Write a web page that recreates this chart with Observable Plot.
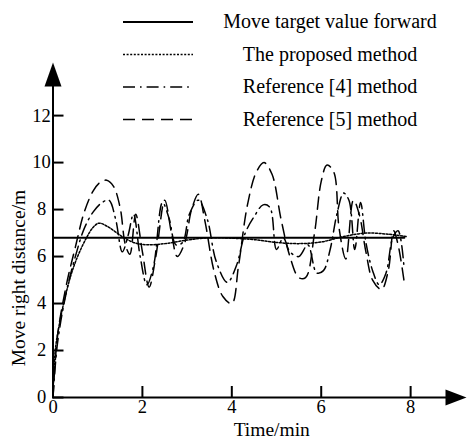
<!DOCTYPE html>
<html><head><meta charset="utf-8">
<script src="https://cdn.jsdelivr.net/npm/d3@7"></script>
<script src="https://cdn.jsdelivr.net/npm/@observablehq/plot@0.6"></script>
<style>
body{margin:0;background:#fff;}
#wrap{position:relative;width:468px;height:442px;font-family:"Liberation Serif","Times New Roman",serif;}
#legend{position:absolute;left:0;top:0;pointer-events:none;}
</style></head><body>
<div id="wrap"></div>
<script>
// ---- data ----
const xTicks = [0, 2, 4, 6, 8];
const yTicks = [0, 2, 4, 6, 8, 10, 12];
const seriesNames = ["Move target value forward", "The proposed method", "Reference [4] method", "Reference [5] method"];

const tTarget = [0, 7.86];
const vTarget = [6.8, 6.8];

const tProposed = [0, 0.05, 0.15, 0.25, 0.4, 0.55, 0.75, 0.9, 1.03, 1.2, 1.55, 1.8, 2.1, 2.5, 3.0, 3.5, 4.0, 4.5, 5.0, 5.5, 6.0, 6.5, 7.0, 7.5, 7.9];
const vProposed = [0, 2.0, 3.2, 4.1, 5.2, 6.0, 6.8, 7.25, 7.42, 7.3, 6.85, 6.6, 6.5, 6.55, 6.7, 6.8, 6.78, 6.72, 6.6, 6.55, 6.62, 6.85, 7.0, 6.95, 6.85];

const tRef4 = [0, 0.1, 0.3, 0.5, 0.7, 0.9, 1.1, 1.25, 1.4, 1.55, 1.68, 1.8, 1.95, 2.1, 2.25, 2.45, 2.6, 2.75, 2.9, 3.05, 3.25, 3.45, 3.65, 3.9, 4.1, 4.3, 4.5, 4.7, 4.85, 5.0, 5.15, 5.3, 5.5, 5.7, 5.9, 6.05, 6.2, 6.35, 6.5, 6.62, 6.75, 6.88, 7.0, 7.15, 7.3, 7.45, 7.6, 7.72, 7.85];
const vRef4 = [0, 2.3, 4.5, 6.0, 7.2, 7.9, 8.3, 8.4, 7.6, 6.2, 6.9, 7.8, 6.0, 4.8, 5.6, 8.3, 7.6, 6.5, 6.6, 7.8, 8.4, 7.6, 5.8, 4.9, 5.6, 7.0, 7.7, 8.2, 8.1, 6.3, 6.8, 6.2, 6.0, 6.5, 5.3, 5.4, 6.3, 7.8, 8.7, 8.4, 6.3, 8.3, 6.6, 5.4, 4.8, 5.3, 6.8, 7.1, 5.6];

const tRef5 = [0, 0.1, 0.3, 0.5, 0.7, 0.9, 1.05, 1.2, 1.35, 1.5, 1.62, 1.72, 1.85, 2.0, 2.15, 2.3, 2.5, 2.65, 2.78, 2.95, 3.1, 3.25, 3.4, 3.6, 3.8, 4.0, 4.15, 4.35, 4.55, 4.72, 4.9, 5.1, 5.3, 5.5, 5.65, 5.85, 6.0, 6.13, 6.28, 6.4, 6.55, 6.72, 6.85, 7.0, 7.15, 7.35, 7.5, 7.62, 7.72, 7.85];
const vRef5 = [0, 2.6, 4.8, 6.4, 7.9, 8.8, 9.15, 9.25, 9.0, 8.1, 6.5, 6.1, 7.8, 6.2, 4.7, 6.0, 8.4, 7.0, 6.0, 6.6, 8.0, 8.65, 7.5, 5.4, 4.3, 4.0, 5.6, 8.2, 9.6, 10.0, 9.5, 7.6, 6.0, 5.1, 5.1, 7.0, 9.2, 9.9, 9.6, 7.2, 5.9, 8.4, 7.8, 6.2, 5.0, 4.6, 5.4, 7.1, 6.5, 5.0];

// ---- layout / style ----
const xMax = 9.25, yMax = 14.26;
const FONT = '"Liberation Serif","Times New Roman",serif';
const styles = [
  {dash: null, width: 2},
  {dash: "2,1.6", width: 1.5},
  {dash: "12,5,1.6,5", width: 1.5},
  {dash: "12,7", width: 1.5}
];

const zip = (t, v) => t.map((x, i) => ({x, y: v[i]}));
const target = zip(tTarget, vTarget);
const proposed = zip(tProposed, vProposed);
const ref4 = zip(tRef4, vRef4);
const ref5 = zip(tRef5, vRef5);

const arrowRight = {draw(ctx) { ctx.moveTo(0, 0); ctx.lineTo(-21, -8); ctx.lineTo(-21, 8); ctx.closePath(); }};
const arrowUp = {draw(ctx) { ctx.moveTo(0, 0); ctx.lineTo(-8.5, 24); ctx.lineTo(8.5, 24); ctx.closePath(); }};

const chart = Plot.plot({
  width: 468, height: 442,
  marginLeft: 52.5, marginRight: 2, marginTop: 62, marginBottom: 45,
  x: {domain: [0, xMax]},
  y: {domain: [0, yMax]},
  style: {fontFamily: FONT, fontSize: "18.5px", color: "#000", background: "#fff", overflow: "visible"},
  marks: [
    Plot.axisX({ticks: xTicks, tickSize: -11, tickPadding: 13, label: null, strokeWidth: 2, fontSize: 18.5}),
    Plot.axisY({ticks: yTicks, tickSize: -11, tickPadding: 22.5, textAnchor: "middle", label: null, strokeWidth: 2, fontSize: 18.5}),
    Plot.line(ref5, {x: "x", y: "y", curve: "catmull-rom", stroke: "#000", strokeWidth: styles[3].width, strokeDasharray: styles[3].dash}),
    Plot.line(ref4, {x: "x", y: "y", curve: "catmull-rom", stroke: "#000", strokeWidth: styles[2].width, strokeDasharray: styles[2].dash}),
    Plot.line(proposed, {x: "x", y: "y", curve: "catmull-rom", stroke: "#000", strokeWidth: styles[1].width, strokeDasharray: styles[1].dash}),
    Plot.line(target, {x: "x", y: "y", stroke: "#000", strokeWidth: styles[0].width}),
    Plot.ruleY([0], {x1: 0, x2: xMax - 0.3, stroke: "#000", strokeWidth: 2}),
    Plot.ruleX([0], {y1: 0, y2: yMax - 0.6, stroke: "#000", strokeWidth: 2}),
    Plot.dot([{x: xMax, y: 0}], {x: "x", y: "y", symbol: arrowRight, fill: "#000", stroke: null}),
    Plot.dot([{x: 0, y: yMax}], {x: "x", y: "y", symbol: arrowUp, fill: "#000", stroke: null}),
    Plot.text(["Time/min"], {frameAnchor: "bottom", dx: 12, dy: 32, lineAnchor: "middle", fontSize: 19.5, fontFamily: FONT}),
    Plot.text(["Move right distance/m"], {frameAnchor: "left", textAnchor: "middle", rotate: -90, dx: -34.5, dy: 48, lineAnchor: "middle", fontSize: 19.5, fontFamily: FONT})
  ]
});
const wrap = document.getElementById("wrap");
wrap.appendChild(chart);

// legend overlay
const ns = "http://www.w3.org/2000/svg";
const leg = document.createElementNS(ns, "svg");
leg.setAttribute("id", "legend");
leg.setAttribute("width", 468); leg.setAttribute("height", 140);
seriesNames.forEach((name, i) => {
  const yy = 22 + i * 32.5;
  const ln = document.createElementNS(ns, "line");
  ln.setAttribute("x1", 123); ln.setAttribute("x2", 193);
  ln.setAttribute("y1", yy); ln.setAttribute("y2", yy);
  ln.setAttribute("stroke", "#000");
  ln.setAttribute("stroke-width", styles[i].width);
  if (styles[i].dash) ln.setAttribute("stroke-dasharray", styles[i].dash);
  leg.appendChild(ln);
  const tx = document.createElementNS(ns, "text");
  tx.setAttribute("x", 330); tx.setAttribute("y", yy + 6);
  tx.setAttribute("text-anchor", "middle");
  tx.setAttribute("font-family", FONT);
  tx.setAttribute("font-size", 20);
  tx.textContent = name;
  leg.appendChild(tx);
});
wrap.appendChild(leg);
</script>
</body></html>
